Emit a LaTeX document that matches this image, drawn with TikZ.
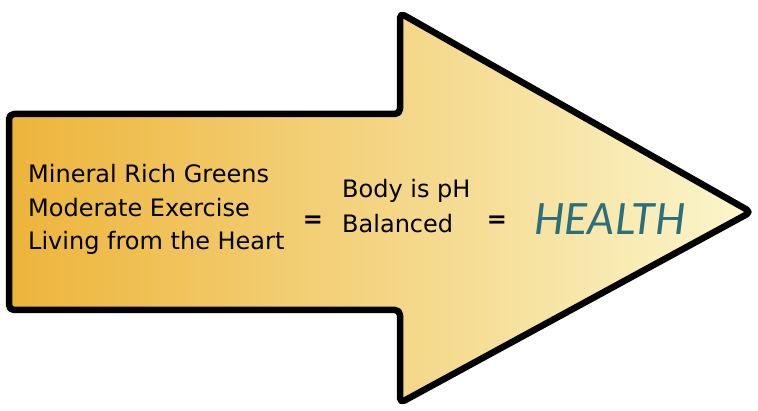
\documentclass[tikz,border=0pt]{standalone}
\usepackage{fontspec}
\setmainfont{DejaVu Sans}
\newfontfamily\healthfont{Lato}
\definecolor{cLeft}{RGB}{237,180,58}
\definecolor{cMid}{RGB}{245,214,125}
\definecolor{cRight}{RGB}{251,246,204}
\definecolor{teal}{RGB}{43,111,124}
\tikzset{
  arrowbody/.style={draw=black, line width=6.5pt, line join=round, rounded corners=5pt,
    left color=cLeft, middle color=cMid, right color=cRight},
  lbl/.style={anchor=base west, inner sep=0pt, font=\fontsize{24}{24}\selectfont},
  eq/.style={anchor=center, inner sep=0pt, font=\bfseries\fontsize{24}{24}\selectfont},
  healthlbl/.style={anchor=center, inner sep=0pt, text=teal, font=\healthfont\itshape\fontsize{43}{43}\selectfont}
}
\begin{document}
\begin{tikzpicture}[x=1pt,y=-1pt]
\useasboundingbox (0,0) rectangle (758,411);
\path[arrowbody] (9,114) -- (400,114) -- (400,13) -- (751,212) -- (400,403) -- (400,310) -- (9,310) -- cycle;
\node[lbl] (l1) at (28,183) {Mineral Rich Greens};
\node[lbl] (l2) at (28,217) {Moderate Exercise};
\node[lbl] (l3) at (28,250) {Living from the Heart};
\node[eq] (e1) at (313,222) {=};
\node[lbl] (b1) at (342,198) {Body is pH};
\node[lbl] (b2) at (342,233) {Balanced};
\node[eq] (e2) at (497,222) {=};
\node[healthlbl] (h) at (610,219) {HEALTH};
\end{tikzpicture}
\end{document}
